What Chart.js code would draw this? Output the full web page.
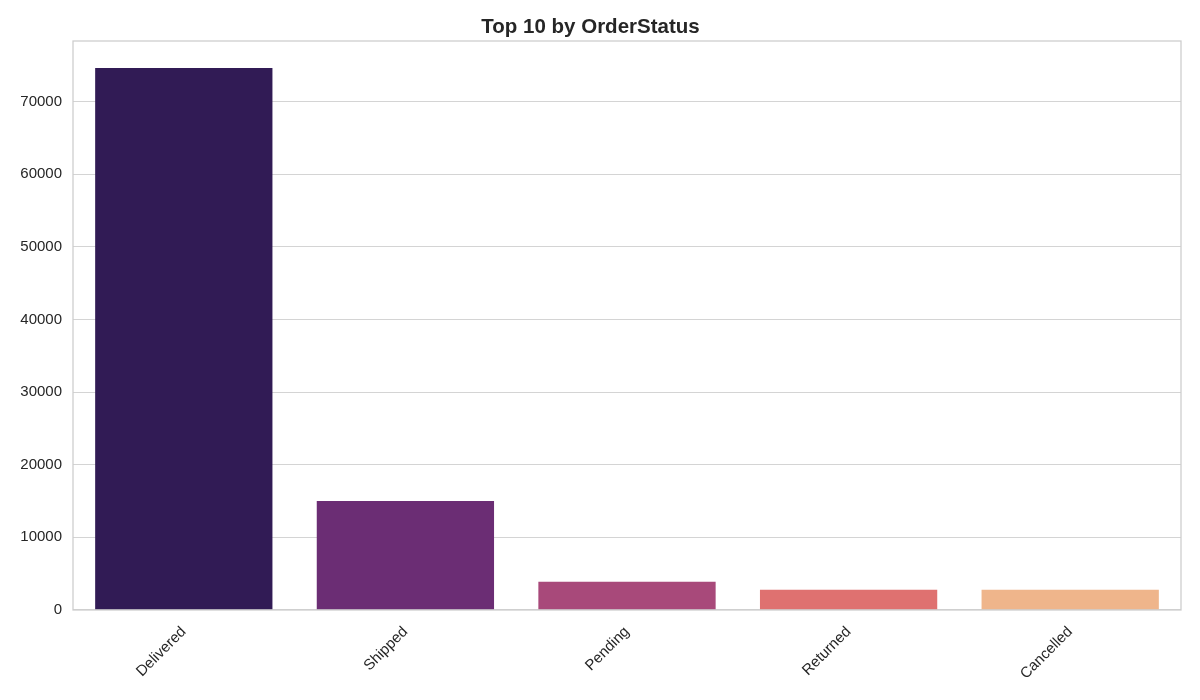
<!DOCTYPE html>
<html>
<head>
<meta charset="utf-8">
<script src="https://cdn.jsdelivr.net/npm/chart.js@4"></script>
<style>
  html, body { margin: 0; padding: 0; background: #ffffff; }
  #wrap { width: 1200px; height: 700px; position: relative; }
</style>
</head>
<body>
<div id="wrap"><canvas id="c" width="1200" height="700"></canvas></div>
<script>
const categories = ["Delivered", "Shipped", "Pending", "Returned", "Cancelled"];
const counts = [74600, 15000, 3900, 2800, 2780];
const barColors = ["#311b55", "#6b2d74", "#a8497a", "#df7170", "#efb58b"];
const yTicks = [0, 10000, 20000, 30000, 40000, 50000, 60000, 70000];
const titleText = "Top 10 by OrderStatus";

const FONT = "'Liberation Sans', Arial, sans-serif";

const frame = {
  id: 'frame',
  afterDatasetsDraw(chart) {
    const a = chart.chartArea, ctx = chart.ctx;
    ctx.save();
    ctx.strokeStyle = '#cccccc';
    ctx.lineWidth = 1.25;
    ctx.strokeRect(a.left, a.top, a.right - a.left, a.bottom - a.top);
    ctx.restore();
  }
};

new Chart(document.getElementById('c'), {
  type: 'bar',
  data: {
    labels: categories,
    datasets: [{
      data: counts,
      backgroundColor: barColors,
      borderWidth: 0,
      barPercentage: 0.8,
      categoryPercentage: 1.0
    }]
  },
  options: {
    responsive: false,
    animation: false,
    layout: { padding: { left: 0, right: 19, top: 0, bottom: 0 } },
    plugins: {
      legend: { display: false },
      tooltip: { enabled: false },
      title: {
        display: true,
        text: titleText,
        color: '#262626',
        font: { family: FONT, size: 20.5, weight: 'bold' },
        padding: { top: 15, bottom: 1.4 }
      }
    },
    scales: {
      x: {
        grid: { display: false, drawTicks: false },
        border: { display: false },
        ticks: {
          color: '#262626',
          font: { family: FONT, size: 15 },
          maxRotation: 45, minRotation: 45,
          padding: 13
        },
        afterFit(scale) { scale.height = 90; }
      },
      y: {
        min: 0,
        max: 78330,
        grid: { color: '#d4d4d4', lineWidth: 1.1, drawTicks: false },
        border: { display: false },
        afterBuildTicks(scale) {
          scale.ticks = yTicks.map(v => ({ value: v }));
        },
        ticks: {
          color: '#262626',
          font: { family: FONT, size: 15 },
          padding: 11,
          callback: v => String(v)
        },
        afterFit(scale) { scale.width = 73; }
      }
    }
  },
  plugins: [frame]
});
</script>
</body>
</html>
